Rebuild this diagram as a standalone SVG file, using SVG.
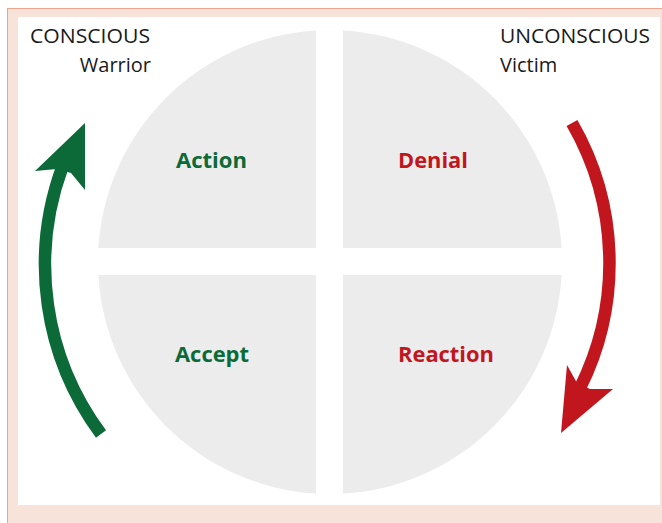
<svg xmlns="http://www.w3.org/2000/svg" width="662" height="523" viewBox="0 0 662 523">
  <style>
    .quad { fill: #ececec; }
    .head { font-family: "Open Sans", "Liberation Sans", sans-serif; font-size: 20px; fill: #1a1a1a; }
    .lbl { font-family: "Open Sans", "Liberation Sans", sans-serif; font-size: 22px; font-weight: bold; }
    .green { fill: #0b6a37; }
    .red { fill: #c2161f; }
  </style>
  <rect x="0" y="0" width="662" height="523" fill="#ffffff"/>
  <rect x="7.5" y="8.5" width="660" height="520" fill="#f7e3da" stroke="#eca58f" stroke-width="1"/>
  <rect x="18" y="17" width="642" height="488" fill="#ffffff"/>

  <g id="quad-action">
    <path class="quad" d="M316,30.4 A232,232 0 0 0 98.4,248 L316,248 Z"/>
    <text class="lbl green" x="176" y="168" textLength="71" lengthAdjust="spacingAndGlyphs">Action</text>
  </g>
  <g id="quad-denial">
    <path class="quad" d="M343,30.4 L343,248 L561.6,248 A232,232 0 0 0 343,30.4 Z"/>
    <text class="lbl red" x="398" y="168" textLength="70" lengthAdjust="spacingAndGlyphs">Denial</text>
  </g>
  <g id="quad-accept">
    <path class="quad" d="M98.4,275 A232,232 0 0 0 316,493.6 L316,275 Z"/>
    <text class="lbl green" x="175" y="362" textLength="74" lengthAdjust="spacingAndGlyphs">Accept</text>
  </g>
  <g id="quad-reaction">
    <path class="quad" d="M343,275 L343,493.6 A232,232 0 0 0 561.6,275 Z"/>
    <text class="lbl red" x="398" y="362" textLength="96" lengthAdjust="spacingAndGlyphs">Reaction</text>
  </g>

  <g id="label-conscious">
    <text class="head" x="30" y="43" textLength="120" lengthAdjust="spacingAndGlyphs">CONSCIOUS</text>
    <text class="head" x="151" y="72" text-anchor="end">Warrior</text>
  </g>
  <g id="label-unconscious">
    <text class="head" x="500" y="43" textLength="150" lengthAdjust="spacingAndGlyphs">UNCONSCIOUS</text>
    <text class="head" x="500" y="72">Victim</text>
  </g>

  <g id="connectors">
    <path d="M101,434 A284,284 0 0 1 62.7,166" fill="none" stroke="#0b6a37" stroke-width="12.5"/>
    <polygon points="85,123 35,171 57,169 71,173 85,190" fill="#0b6a37"/>
    <path d="M572,123 A280,280 0 0 1 580,388" fill="none" stroke="#c2161f" stroke-width="12.5"/>
    <polygon points="561,433 567,365 577,383 590,389 613,389" fill="#c2161f"/>
  </g>
</svg>
